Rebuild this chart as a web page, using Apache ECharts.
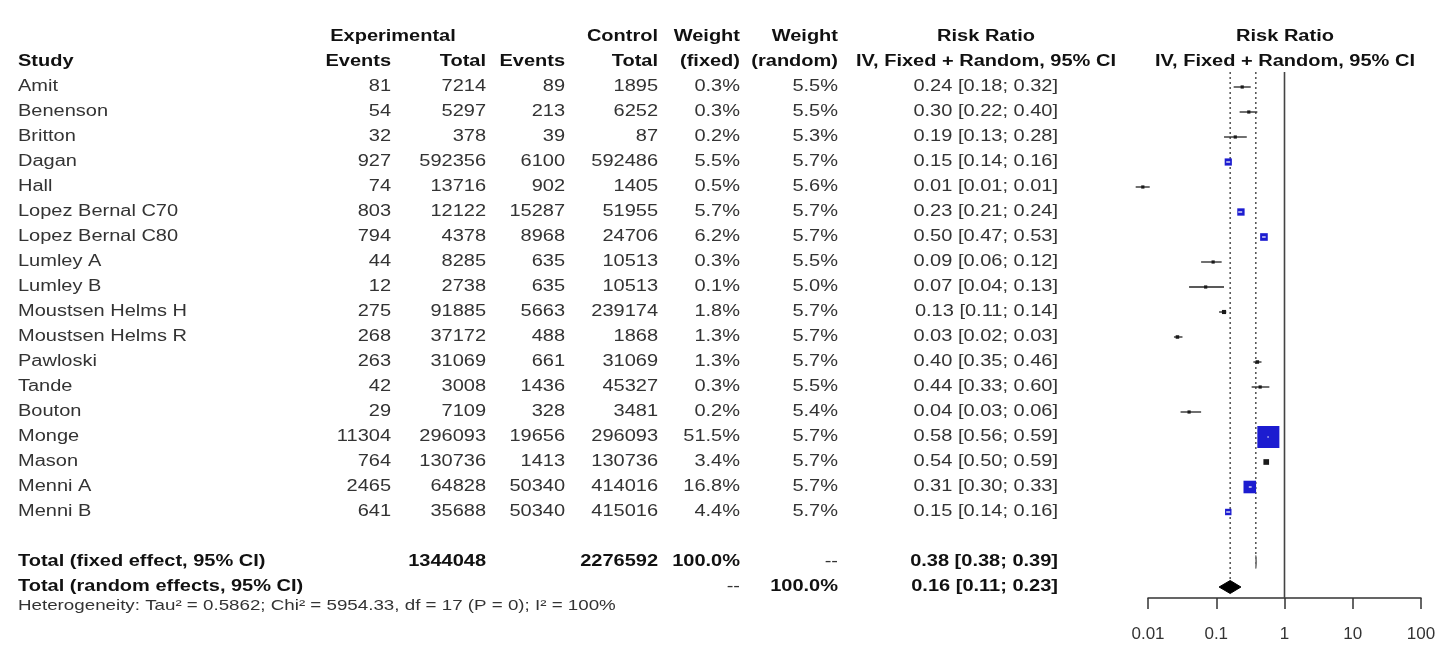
<!DOCTYPE html>
<html>
<head>
<meta charset="utf-8">
<script src="https://cdn.jsdelivr.net/npm/echarts@6/dist/echarts.min.js"></script>
<style>html,body{margin:0;padding:0;background:#fff;}#chart{width:1456px;height:659px;}</style>
</head>
<body>
<div id="chart"></div>
<script>
// ---------------- data ----------------
const studies = ['Amit','Benenson','Britton','Dagan','Hall','Lopez Bernal C70','Lopez Bernal C80','Lumley A','Lumley B','Moustsen Helms H','Moustsen Helms R','Pawloski','Tande','Bouton','Monge','Mason','Menni A','Menni B'];
const expEvents = [81,54,32,927,74,803,794,44,12,275,268,263,42,29,11304,764,2465,641];
const expTotal = [7214,5297,378,592356,13716,12122,4378,8285,2738,91885,37172,31069,3008,7109,296093,130736,64828,35688];
const ctrlEvents = [89,213,39,6100,902,15287,8968,635,635,5663,488,661,1436,328,19656,1413,50340,50340];
const ctrlTotal = [1895,6252,87,592486,1405,51955,24706,10513,10513,239174,1868,31069,45327,3481,296093,130736,414016,415016];
const weightFixed = [0.3,0.3,0.2,5.5,0.5,5.7,6.2,0.3,0.1,1.8,1.3,1.3,0.3,0.2,51.5,3.4,16.8,4.4];
const weightRandom = [5.5,5.5,5.3,5.7,5.6,5.7,5.7,5.5,5.0,5.7,5.7,5.7,5.5,5.4,5.7,5.7,5.7,5.7];
const rrEst   = [0.24,0.30,0.19,0.15,0.0084,0.23,0.50,0.09,0.07,0.13,0.027,0.40,0.44,0.04,0.58,0.54,0.31,0.15];
const rrLower = [0.18,0.22,0.13,0.14,0.0066,0.21,0.47,0.06,0.04,0.11,0.024,0.35,0.33,0.03,0.56,0.50,0.30,0.14];
const rrUpper = [0.32,0.40,0.28,0.16,0.0106,0.24,0.53,0.12,0.13,0.14,0.032,0.46,0.60,0.06,0.59,0.59,0.33,0.16];

const pooledLabels = ['Total (fixed effect, 95% CI)','Total (random effects, 95% CI)'];
const pooledExpTotal = ['1344048',''];
const pooledCtrlTotal = ['2276592',''];
const pooledWeightFixed = ['100.0%','--'];
const pooledWeightRandom = ['--','100.0%'];
const pooledEst = [0.38,0.16];
const pooledLower = [0.38,0.11];
const pooledUpper = [0.39,0.23];
const heterogeneity = 'Heterogeneity: Tau\u00B2 = 0.5862; Chi\u00B2 = 5954.33, df = 17 (P = 0); I\u00B2 = 100%';
const nullValue = 1;
const tickLabels = ['0.01','0.1','1','10','100'];

// ---------------- layout ----------------
const COL = {study:18, expEv:391, expTot:486, ctlEv:565, ctlTot:658, wF:740, wR:838, rr:1058, rrHead:986, expHead:393, plotHead:1285};
const ROW_HEAD1 = -2, ROW_HEAD2 = -1, ROW_FIXED = 19, ROW_RANDOM = 20, ROW_HET = 20.76;
const Y_MIN = -2.6, Y_MAX = 20.44;
const SX = 1.25;
const FONT = '"Liberation Sans", Arial, sans-serif';

const fmt = v => v.toFixed(2);
const fmtCI = (e,l,u) => fmt(e) + ' [' + fmt(l) + '; ' + fmt(u) + ']';

const cells = [];
function cell(x,row,text,align,bold,size,color){
  cells.push({x,row,text,align,bold:!!bold,size:size||16,color:color||(bold?'#111':'#333')});
}
// headers
cell(COL.expHead,ROW_HEAD1,'Experimental','center',true);
cell(COL.ctlTot,ROW_HEAD1,'Control','right',true);
cell(COL.wF,ROW_HEAD1,'Weight','right',true);
cell(COL.wR,ROW_HEAD1,'Weight','right',true);
cell(COL.rrHead,ROW_HEAD1,'Risk Ratio','center',true);
cell(COL.plotHead,ROW_HEAD1,'Risk Ratio','center',true);
cell(COL.study,ROW_HEAD2,'Study','left',true);
cell(COL.expEv,ROW_HEAD2,'Events','right',true);
cell(COL.expTot,ROW_HEAD2,'Total','right',true);
cell(COL.ctlEv,ROW_HEAD2,'Events','right',true);
cell(COL.ctlTot,ROW_HEAD2,'Total','right',true);
cell(COL.wF,ROW_HEAD2,'(fixed)','right',true);
cell(COL.wR,ROW_HEAD2,'(random)','right',true);
cell(COL.rrHead,ROW_HEAD2,'IV, Fixed + Random, 95% CI','center',true);
cell(COL.plotHead,ROW_HEAD2,'IV, Fixed + Random, 95% CI','center',true);
// study rows
studies.forEach((s,i)=>{
  cell(COL.study,i,s,'left');
  cell(COL.expEv,i,String(expEvents[i]),'right');
  cell(COL.expTot,i,String(expTotal[i]),'right');
  cell(COL.ctlEv,i,String(ctrlEvents[i]),'right');
  cell(COL.ctlTot,i,String(ctrlTotal[i]),'right');
  cell(COL.wF,i,weightFixed[i].toFixed(1)+'%','right');
  cell(COL.wR,i,weightRandom[i].toFixed(1)+'%','right');
  cell(COL.rr,i,fmtCI(rrEst[i],rrLower[i],rrUpper[i]),'right');
});
// pooled rows
pooledLabels.forEach((lab,k)=>{
  const r = k===0 ? ROW_FIXED : ROW_RANDOM;
  cell(COL.study,r,lab,'left',true);
  if (pooledExpTotal[k]) cell(COL.expTot,r,pooledExpTotal[k],'right',true);
  if (pooledCtrlTotal[k]) cell(COL.ctlTot,r,pooledCtrlTotal[k],'right',true);
  cell(COL.wF,r,pooledWeightFixed[k],'right',pooledWeightFixed[k]!=='--');
  cell(COL.wR,r,pooledWeightRandom[k],'right',pooledWeightRandom[k]!=='--');
  cell(COL.rr,r,fmtCI(pooledEst[k],pooledLower[k],pooledUpper[k]),'right',true);
});
cell(COL.study,ROW_HET,heterogeneity,'left',false,15,'#333');

// ---------------- chart ----------------
const chart = echarts.init(document.getElementById('chart'));

const option = {
  animation:false,
  backgroundColor:'#fff',
  grid:[
    {left:0, top:22, width:1456, height:576, containLabel:false},
    {left:1148, top:22, width:273, height:576, containLabel:false}
  ],
  xAxis:[
    {type:'value', gridIndex:0, min:0, max:1456, show:false},
    {type:'log', gridIndex:1, logBase:10, min:0.01, max:100,
     axisLine:{show:true, onZero:false, lineStyle:{color:'#333', width:1.5}},
     axisTick:{show:true, inside:false, length:11, lineStyle:{color:'#333', width:1.5}},
     axisLabel:{show:true, fontSize:17, color:'#333', fontFamily:FONT, margin:28,
       formatter:v=>tickLabels[Math.round(Math.log10(v))+2]},
     splitLine:{show:false}, minorTick:{show:false}}
  ],
  yAxis:[
    {type:'value', gridIndex:0, min:Y_MIN, max:Y_MAX, inverse:true, show:false},
    {type:'value', gridIndex:1, min:Y_MIN, max:Y_MAX, inverse:true, show:false}
  ],
  series:[
    // table text
    {type:'custom', xAxisIndex:0, yAxisIndex:0, silent:true, clip:false,
     data:cells.map((c,k)=>[c.x,c.row,k]),
     encode:{x:0,y:1},
     renderItem:(params,api)=>{
       const c = cells[api.value(2)];
       const p = api.coord([api.value(0),api.value(1)]);
       return {type:'text', x:p[0], y:p[1], scaleX:SX, scaleY:1, silent:true,
         style:{legacy:false, text:c.text, x:0, y:0, align:c.align, verticalAlign:'middle',
           fill:c.color, fontSize:c.size, fontWeight:c.bold?'bold':'normal', fontFamily:FONT}};
     }},
    // reference lines
    {type:'custom', xAxisIndex:1, yAxisIndex:1, silent:true, clip:false,
     data:[[nullValue,-0.6,Y_MAX,0],[pooledEst[0],-0.6,ROW_FIXED+0.2,1],[pooledEst[1],-0.6,ROW_RANDOM-0.25,1]],
     encode:{x:0,y:[1,2]},
     renderItem:(params,api)=>{
       const a = api.coord([api.value(0),api.value(1)]);
       const b = api.coord([api.value(0),api.value(2)]);
       const dotted = api.value(3)===1;
       return {type:'line', shape:{x1:a[0],y1:a[1],x2:b[0],y2:b[1]},
         style:{stroke:dotted?'#444':'#444', lineWidth:dotted?1.4:1.6, lineDash:dotted?[2,3]:null}};
     }},
    // studies
    {type:'custom', xAxisIndex:1, yAxisIndex:1, silent:true, clip:false,
     data:studies.map((s,i)=>[rrEst[i],i,rrLower[i],rrUpper[i],weightFixed[i]]),
     encode:{x:[0,2,3],y:1},
     renderItem:(params,api)=>{
       const c = api.coord([api.value(0),api.value(1)]);
       const l = api.coord([api.value(2),api.value(1)]);
       const u = api.coord([api.value(3),api.value(1)]);
       const w = api.value(4);
       const side = Math.max(3.2, 3.07*Math.sqrt(w));
       const big = w >= 4;
       const children = [
         {type:'line', shape:{x1:l[0],y1:c[1],x2:u[0],y2:c[1]}, style:{stroke:'#222', lineWidth:1.3}},
         {type:'rect', shape:{x:c[0]-side/2,y:c[1]-side/2,width:side,height:side},
           style:{fill:big?'#1c1cd0':'#1a1a1a'}}
       ];
       if (big) {
         const x1 = Math.max(l[0], c[0]-side/2), x2 = Math.min(u[0], c[0]+side/2);
         children.push({type:'line', shape:{x1:x1,y1:c[1],x2:x2,y2:c[1]}, style:{stroke:'#fff', lineWidth:1.2}});
       }
       return {type:'group', children};
     }},
    // pooled diamonds
    {type:'custom', xAxisIndex:1, yAxisIndex:1, silent:true, clip:false,
     data:pooledEst.map((e,k)=>[e,k===0?ROW_FIXED:ROW_RANDOM,pooledLower[k],pooledUpper[k],k]),
     encode:{x:[0,2,3],y:1},
     renderItem:(params,api)=>{
       const c = api.coord([api.value(0),api.value(1)]);
       const l = api.coord([api.value(2),api.value(1)]);
       const u = api.coord([api.value(3),api.value(1)]);
       const h = 6.5;
       return {type:'polygon', shape:{points:[[l[0],c[1]],[c[0],c[1]-h],[u[0],c[1]],[c[0],c[1]+h]]},
         style:{fill:api.value(4)===0?'#777':'#000', stroke:api.value(4)===0?'#777':'#000', lineWidth:1}};
     }}
  ]
};
chart.setOption(option);
</script>
</body>
</html>
